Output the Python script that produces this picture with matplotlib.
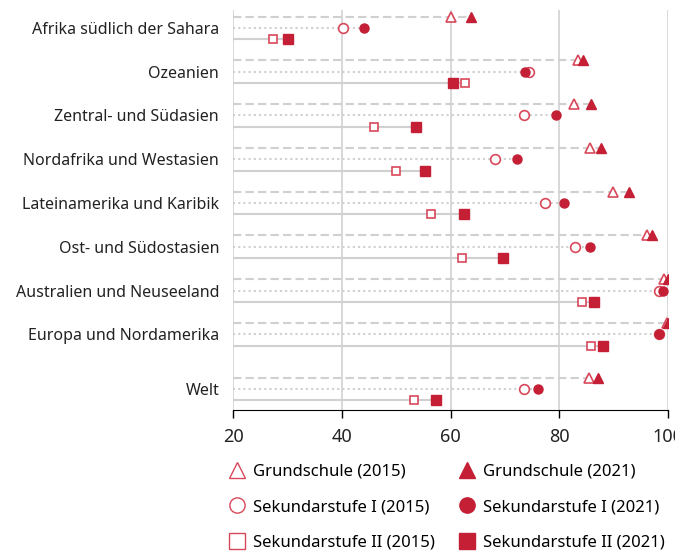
import matplotlib.pyplot as plt
from matplotlib.lines import Line2D

plt.rcParams['font.family'] = ['Noto Sans', 'DejaVu Sans']

# Daten (Abschlussquoten in %)
regionen = ['Afrika südlich der Sahara', 'Ozeanien', 'Zentral- und Südasien',
            'Nordafrika und Westasien', 'Lateinamerika und Karibik',
            'Ost- und Südostasien', 'Australien und Neuseeland',
            'Europa und Nordamerika', 'Welt']
grund_2015 = [60.0, 83.5, 82.7, 85.6, 89.9, 96.1, 99.2, 99.9, 85.5]
grund_2021 = [63.8, 84.3, 85.9, 87.7, 92.9, 97.0, 100.0, 100.0, 87.2]
sek1_2015 = [40.3, 74.5, 73.5, 68.2, 77.3, 82.9, 98.3, 98.3, 73.5]
sek1_2021 = [44.0, 73.7, 79.4, 72.2, 80.8, 85.7, 99.0, 98.3, 76.0]
sek2_2015 = [27.4, 62.7, 45.9, 50.0, 56.5, 62.1, 84.2, 85.9, 53.3]
sek2_2021 = [30.1, 60.5, 53.6, 55.4, 62.4, 69.7, 86.3, 88.0, 57.4]
pos = [0, 1, 2, 3, 4, 5, 6, 7, 8.25]
xticks = [20, 40, 60, 80, 100]

rot = '#c41f35'
rot_hell = '#d8485a'
grau = '#d0d0d0'
off = 0.26

fig = plt.figure(figsize=(6.75, 5.51), dpi=100)
ax = fig.add_axes([233 / 675, 1 - 410 / 551, 435 / 675, 400 / 551])

reihen = [
    (-off, grund_2015, grund_2021, (0, (4, 2)), '^', 7.5, 6.5),
    (0, sek1_2015, sek1_2021, (0, (1, 1.5)), 'o', 7, 6.5),
    (off, sek2_2015, sek2_2021, '-', 's', 5.6, 7.5),
]
handles_2015 = []
handles_2021 = []
for dy, a, b, ls, m, ms_a, ms_b in reihen:
    for i, p in enumerate(pos):
        y = p + dy
        ax.plot([20, max(a[i], b[i])], [y, y], color=grau, lw=1.5, ls=ls,
                zorder=1, solid_capstyle='butt')
    ys = [p + dy for p in pos]
    h1, = ax.plot(a, ys, ls='none', marker=m, ms=ms_a, mfc='white',
                  mec=rot_hell, mew=1.2, zorder=3)
    h2, = ax.plot(b, ys, ls='none', marker=m, ms=ms_b, color=rot,
                  mec=rot, zorder=4)
    handles_2015.append(h1)
    handles_2021.append(h2)

ax.set_xlim(20, 100)
ax.set_ylim(8.25 + 0.48, -0.41)
ax.set_xticks(xticks)
ax.set_yticks(pos)
ax.set_yticklabels(regionen)
ax.grid(axis='x', color='#d6d6d6', lw=1.3)
ax.set_axisbelow(True)
for s in ['top', 'right', 'left']:
    ax.spines[s].set_visible(False)
ax.spines['bottom'].set_color('black')
ax.tick_params(axis='y', length=0, pad=10, labelsize=11.5, labelcolor='#222222')
ax.tick_params(axis='x', length=6, width=1, labelsize=13, labelcolor='#222222', pad=7)

labels = ['Grundschule (2015)', 'Sekundarstufe I (2015)', 'Sekundarstufe II (2015)',
          'Grundschule (2021)', 'Sekundarstufe I (2021)', 'Sekundarstufe II (2021)']
leg_h = []
for h in handles_2015 + handles_2021:
    filled = h.get_markerfacecolor() != 'white'
    leg_h.append(Line2D([], [], ls='none', marker=h.get_marker(), ms=11,
                        mfc=rot if filled else 'white',
                        mec=rot if filled else rot_hell, mew=1.0))
fig.legend(leg_h, labels, ncol=2, loc='upper left',
           bbox_to_anchor=(212 / 675, 1 - 449 / 551), frameon=False,
           fontsize=12, labelspacing=1.15, columnspacing=1.35,
           handletextpad=0.35, handlelength=1.2)

fig.savefig('out.png', dpi=100)
